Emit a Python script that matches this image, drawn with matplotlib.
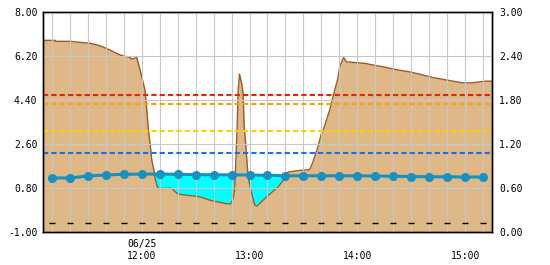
import numpy as np
import pandas as pd
import matplotlib
matplotlib.use("Agg")
import matplotlib.pyplot as plt
import matplotlib.dates as mdates

DAY = "2024-06-25 "

# brown area (left axis)
area_times = ["11:05:00", "11:11:48", "11:12:00", "11:20:12", "11:25:12", "11:31:18",
              "11:36:48", "11:42:24", "11:47:54", "11:53:30", "11:54:24", "11:57:12",
              "11:58:06", "12:00:00", "12:01:48", "12:02:48", "12:03:42", "12:04:36",
              "12:05:36", "12:06:48", "12:07:24", "12:08:18", "12:09:12", "12:11:06",
              "12:16:42", "12:18:30", "12:20:18", "12:32:24", "12:37:54", "12:46:18",
              "12:49:24", "12:50:42", "12:51:24", "12:51:48", "12:52:24", "12:53:06",
              "12:53:42", "12:54:24", "12:55:36", "12:56:24", "12:57:00", "12:57:48",
              "12:59:12", "13:00:42", "13:02:54", "13:04:12", "13:09:24", "13:15:54",
              "13:18:42", "13:21:24", "13:27:54", "13:33:30", "13:35:18", "13:38:06",
              "13:40:00", "13:41:18", "13:44:36", "13:47:24", "13:49:12", "13:50:12",
              "13:51:42", "13:52:24", "13:53:54", "13:57:36", "14:04:06", "14:08:42",
              "14:14:12", "14:23:30", "14:29:06", "14:34:36", "14:42:00", "14:50:18",
              "14:58:42", "15:03:18", "15:11:42", "15:15:00"]
area_vals = [6.84, 6.84, 6.80, 6.80, 6.76, 6.72,
             6.62, 6.44, 6.24, 6.14, 6.07, 6.14,
             5.90, 5.35, 4.80, 3.98, 3.16, 2.63,
             1.93, 1.52, 1.20, 0.93, 0.78, 0.78,
             0.79, 0.65, 0.55, 0.44, 0.30, 0.17,
             0.14, 0.31, 0.58, 0.85, 1.94, 3.31,
             4.81, 5.46, 5.08, 4.67, 3.34, 2.64,
             1.26, 0.72, 0.10, 0.06, 0.43, 0.84,
             1.11, 1.45, 1.52, 1.55, 1.87, 2.48,
             3.03, 3.23, 3.98, 4.80, 5.28, 5.76,
             6.03, 6.14, 5.96, 5.94, 5.90, 5.83,
             5.76, 5.62, 5.55, 5.46, 5.32, 5.21,
             5.10, 5.10, 5.17, 5.17]

# 10-minute series
line_times = pd.date_range(DAY + "11:10", DAY + "15:10", freq="10min")
line_vals = [1.21, 1.21, 1.29, 1.33, 1.36, 1.37, 1.37, 1.36, 1.35, 1.34, 1.34, 1.33,
             1.32, 1.30, 1.30, 1.30, 1.30, 1.30, 1.29, 1.28, 1.27, 1.26, 1.26, 1.25, 1.25]
base_vals = [-0.65] * len(line_times)

# threshold lines
levels = [4.60, 4.24, 3.13, 2.23]
level_colors = ["#e82010", "#ffa000", "#ffd000", "#1a70e0"]

left_ticks = [-1.0, 0.8, 2.6, 4.4, 6.2, 8.0]
right_ticks = [0.0, 0.6, 1.2, 1.8, 2.4, 3.0]
hour_ticks = ["12:00", "13:00", "14:00", "15:00"]
hour_labels = ["06/25\n12:00", "\n13:00", "\n14:00", "\n15:00"]

plt.rcParams["font.family"] = "DejaVu Sans Mono"
plt.rcParams["font.size"] = 7

fig = plt.figure(figsize=(5.5, 2.65), dpi=100)
ax = fig.add_axes([43 / 550, 33 / 265, 449 / 550, 220 / 265])

at = mdates.date2num(pd.to_datetime([DAY + t for t in area_times]))
lt = mdates.date2num(line_times)
av = np.array(area_vals)
lv = np.array(line_vals)

ax.fill_between(at, av, -1, color="#deb887", lw=0, zorder=1)
ax.plot(at, av, color="#9a5a28", lw=1, zorder=2)

# cyan where the area sits below the line
grid_t = np.union1d(at, lt)
grid_t = grid_t[(grid_t >= lt[0]) & (grid_t <= lt[-1])]
a_g = np.interp(grid_t, at, av)
l_g = np.interp(grid_t, lt, lv)
ax.fill_between(grid_t, a_g, l_g, where=a_g < l_g, interpolate=True,
                color="#00ffff", lw=0, zorder=1.5)

for lvl, c in zip(levels, level_colors):
    ax.axhline(lvl, color=c, lw=1.5, ls=(0, (2.5, 1.5)), zorder=4)

ax.plot(lt, lv, color="#1890c0", lw=2.2, marker="o", ms=5.5, zorder=5)
ax.plot(lt, base_vals, ls="none", marker="_", ms=4, mew=1, color="black", zorder=5)

ax.set_xlim(mdates.date2num(pd.Timestamp(DAY + "11:05")),
            mdates.date2num(pd.Timestamp(DAY + "15:15")))
ax.set_ylim(-1, 8)
ax.set_yticks(left_ticks)
ax.set_yticklabels([f"{v:.2f}" for v in left_ticks])
ax.set_xticks(mdates.date2num(pd.to_datetime([DAY + h for h in hour_ticks])))
ax.set_xticklabels(hour_labels)
ax.xaxis.set_minor_locator(mdates.MinuteLocator(byminute=range(0, 60, 10)))
ax.grid(True, which="both", axis="x", color="#c8c8c8", lw=0.8, zorder=3)
ax.grid(True, which="major", axis="y", color="#c8c8c8", lw=0.8, zorder=3)
ax.set_axisbelow(False)
ax.tick_params(which="both", length=0)
ax.tick_params(axis="y", pad=4)
ax.tick_params(axis="x", pad=5)

ax2 = ax.twinx()
ax2.set_ylim(0, 3)
ax2.set_yticks(right_ticks)
ax2.set_yticklabels([f"{v:.2f}" for v in right_ticks])
ax2.tick_params(length=0, pad=5)

for a in (ax, ax2):
    for s in a.spines.values():
        s.set_color("black")
        s.set_linewidth(1)

fig.savefig("out.png", dpi=100)
